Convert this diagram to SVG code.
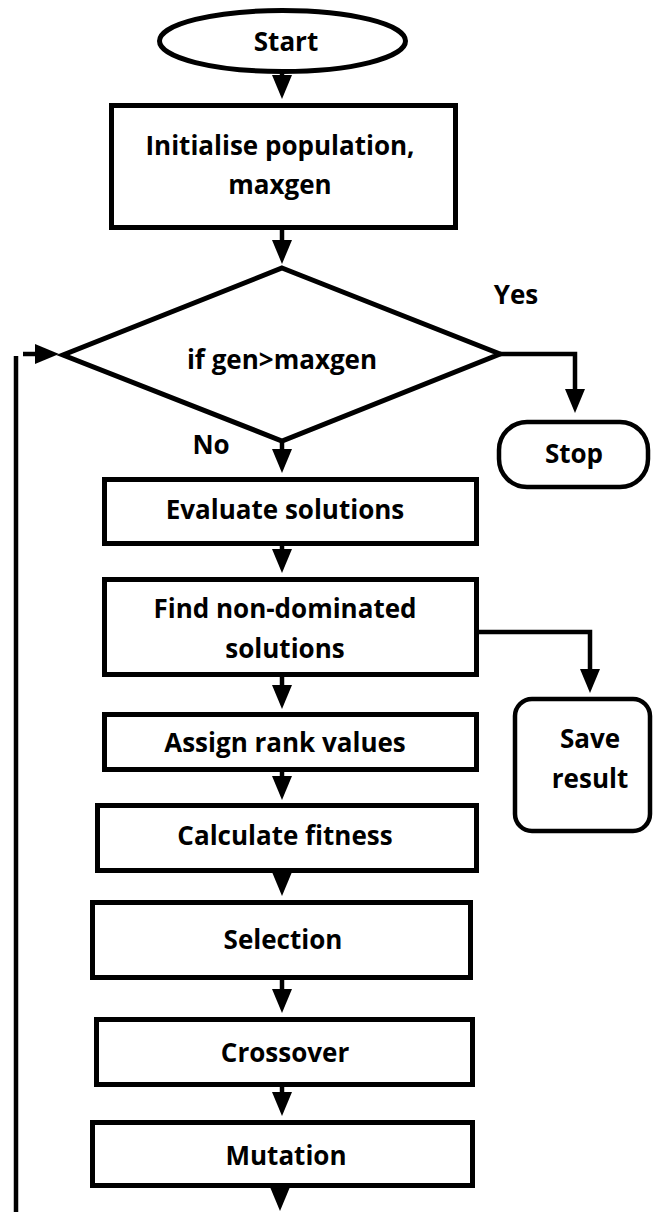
<svg xmlns="http://www.w3.org/2000/svg" width="656" height="1215" viewBox="0 0 656 1215">
<defs>
<style>
.shape{fill:#fff;stroke:#000;stroke-width:5}
.term{fill:#fff;stroke:#000;stroke-width:4.5}
.conn{fill:none;stroke:#000;stroke-width:4.5;marker-end:url(#ah)}
.plain{fill:none;stroke:#000;stroke-width:4.5}
text{font-family:"Open Sans","Noto Sans","Liberation Sans",sans-serif;font-weight:bold;font-size:26px;fill:#000;text-anchor:middle}
</style>
<marker id="ah" viewBox="0 0 24 20" refX="14" refY="10" markerWidth="24" markerHeight="20" markerUnits="userSpaceOnUse" orient="auto">
<path d="M0,0 L24,10 L0,20 Z" fill="#000"/>
</marker>
</defs>
<rect width="656" height="1215" fill="#fff"/>
<g id="connectors">
<path class="conn" d="M282,74 V89"/>
<path class="conn" d="M282,230 V254"/>
<path class="conn" d="M500,354 H575 V403"/>
<path class="conn" d="M282,441 V463"/>
<path class="conn" d="M282,546 V563"/>
<path class="conn" d="M479,632 H590 V683"/>
<path class="conn" d="M282,677 V699"/>
<path class="conn" d="M282,772 V790"/>
<path class="conn" d="M282,873 V886"/>
<path class="conn" d="M282,980 V1003"/>
<path class="conn" d="M282,1087 V1106"/>
<path class="conn" d="M280,1188 V1201"/>
<path class="plain" d="M16,1212 V356"/>
<path class="conn" d="M23,354 H49"/>
</g>
<g id="start">
<ellipse class="shape" cx="282.5" cy="41" rx="123" ry="30.5"/>
<text x="286" y="51">Start</text>
</g>
<g id="init">
<rect class="shape" x="111.5" y="105.5" width="344" height="122"/>
<text x="280" y="155">Initialise population,</text>
<text x="280" y="194">maxgen</text>
</g>
<g id="decision">
<polygon class="shape" points="282,268 500,354 282,441 63,355"/>
<text x="282" y="369">if gen&gt;maxgen</text>
</g>
<g id="label-yes"><text x="516" y="304">Yes</text></g>
<g id="label-no"><text x="211" y="454">No</text></g>
<g id="stop">
<rect class="term" x="499" y="422" width="149" height="65" rx="28" ry="28"/>
<text x="574" y="463">Stop</text>
</g>
<g id="evaluate">
<rect class="shape" x="104.5" y="479.5" width="372" height="64"/>
<text x="285" y="519">Evaluate solutions</text>
</g>
<g id="find">
<rect class="shape" x="104.5" y="579.5" width="372" height="95"/>
<text x="285" y="618">Find non-dominated</text>
<text x="285" y="658">solutions</text>
</g>
<g id="save">
<rect class="term" x="515" y="699" width="135" height="132" rx="17" ry="17"/>
<text x="590" y="748">Save</text>
<text x="590" y="788">result</text>
</g>
<g id="assign">
<rect class="shape" x="104.5" y="714.5" width="372" height="55"/>
<text x="285" y="752">Assign rank values</text>
</g>
<g id="calculate">
<rect class="shape" x="97.5" y="805.5" width="379" height="65"/>
<text x="285" y="845">Calculate fitness</text>
</g>
<g id="selection">
<rect class="shape" x="92.5" y="902.5" width="378" height="75"/>
<text x="283" y="949">Selection</text>
</g>
<g id="crossover">
<rect class="shape" x="96.5" y="1019.5" width="376" height="65"/>
<text x="285" y="1062">Crossover</text>
</g>
<g id="mutation">
<rect class="shape" x="92.5" y="1122.5" width="380" height="63"/>
<text x="286" y="1165">Mutation</text>
</g>
</svg>
